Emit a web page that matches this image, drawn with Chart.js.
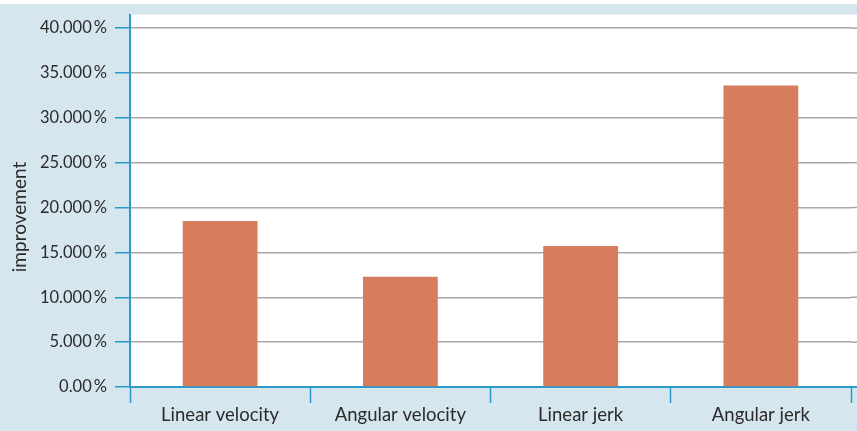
<!DOCTYPE html>
<html>
<head>
<meta charset="utf-8">
<script src="https://cdn.jsdelivr.net/npm/chart.js@4/dist/chart.umd.min.js"></script>
<style>
  html, body { margin: 0; padding: 0; background: #fff; }
  #wrap { width: 857px; height: 431px; }
</style>
</head>
<body>
<div id="wrap"><canvas id="grafico"></canvas></div>
<script>
const categorias = ["Linear velocity", "Angular velocity", "Linear jerk", "Angular jerk"];
const melhoria = [18.5, 12.3, 15.7, 33.6];
const valoresY = [0, 5, 10, 15, 20, 25, 30, 35, 40];
const rotulosY = ["0.00\u2009%", "5.000\u2009%", "10.000\u2009%", "15.000\u2009%", "20.000\u2009%",
                  "25.000\u2009%", "30.000\u2009%", "35.000\u2009%", "40.000\u2009%"];
const tituloY = "improvement";

const azul = "#2a9ac8";
const fundo = "#d6e6ef";
const cinza = "#a8a8a8";
const fonte = "Lato";
const corTexto = "#2b2b2b";

// pinta o fundo azul, a area branca e o titulo do eixo y
const fundoPlugin = {
    id: "fundo",
    beforeDraw(chart) {
        const c = chart.ctx;
        const a = chart.chartArea;
        c.save();
        c.fillStyle = fundo;
        c.fillRect(0, 4, chart.width, chart.height - 4);
        c.fillStyle = "#fff";
        c.fillRect(a.left, a.top, chart.width - a.left, a.bottom - a.top);
        c.translate(20, 217);
        c.rotate(-Math.PI / 2);
        c.fillStyle = corTexto;
        c.font = "19px " + fonte;
        c.textAlign = "center";
        c.textBaseline = "middle";
        c.fillText(tituloY, 0, 0);
        c.restore();
    },
    // prolonga as linhas de grade ate a borda direita
    beforeDatasetsDraw(chart) {
        const c = chart.ctx;
        const a = chart.chartArea;
        const y = chart.scales.y;
        c.save();
        c.strokeStyle = cinza;
        c.lineWidth = 1.5;
        valoresY.slice(1).forEach(v => {
            const py = y.getPixelForValue(v);
            c.beginPath();
            c.moveTo(a.right, py);
            c.lineTo(chart.width, py);
            c.stroke();
        });
        c.strokeStyle = azul;
        c.lineWidth = 2;
        c.beginPath();
        c.moveTo(a.right, a.bottom);
        c.lineTo(chart.width, a.bottom);
        c.stroke();
        c.restore();
    }
};

new Chart(document.getElementById("grafico"), {
    type: "bar",
    data: {
        labels: categorias,
        datasets: [{
            data: melhoria,
            backgroundColor: "#d77c5c",
            categoryPercentage: 1,
            barPercentage: 0.415
        }]
    },
    options: {
        responsive: true,
        maintainAspectRatio: false,
        animation: false,
        layout: { padding: { top: 12, right: 6, left: 0, bottom: 0 } },
        plugins: {
            legend: { display: false },
            tooltip: { enabled: false }
        },
        scales: {
            x: {
                grid: {
                    offset: true,
                    drawOnChartArea: false,
                    tickLength: 16,
                    tickColor: azul,
                    tickWidth: 1.5
                },
                border: { color: azul, width: 2 },
                ticks: {
                    color: corTexto,
                    font: { family: fonte, size: 18.5 },
                    padding: 1
                },
                afterFit(s) { s.height = 44; }
            },
            y: {
                min: 0,
                max: 41.5,
                grid: {
                    color: cinza,
                    lineWidth: 1.5,
                    tickLength: 15,
                    tickColor: azul,
                    tickWidth: 1.5
                },
                border: { color: azul, width: 2 },
                ticks: {
                    color: corTexto,
                    font: { family: fonte, size: 16.5, lineHeight: 0.8 },
                    padding: 8,
                    callback: (v) => rotulosY[valoresY.indexOf(v)]
                },
                afterBuildTicks(s) {
                    s.ticks = valoresY.map(v => ({ value: v }));
                },
                afterFit(s) { s.width = 130; }
            }
        }
    },
    plugins: [fundoPlugin]
});
</script>
</body>
</html>
